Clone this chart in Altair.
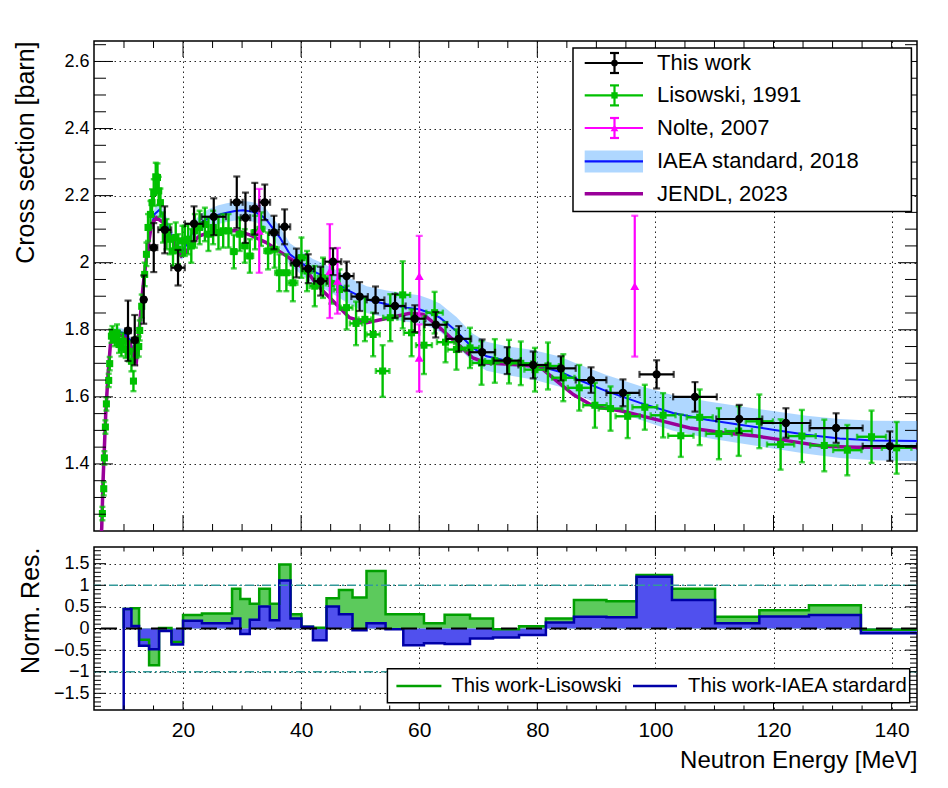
import altair as alt
import pandas as pd

FONT = "Liberation Sans"

# ---------------- data ----------------
# This work
tw_E = [10.68, 11.82, 13.34, 15.04, 16.90, 19.15, 21.86, 25.20, 29.10, 30.57, 32.15, 33.84, 35.40,
        37.20, 39.20, 41.20, 43.30, 45.40, 47.70, 49.90, 52.60, 55.90, 59.25, 62.80, 66.70, 70.65,
        74.90, 79.30, 84.00, 89.10, 94.50, 100.20, 106.70, 114.20, 122.10, 130.60, 139.70]
tw_v = [1.797, 1.769, 1.890, 2.045, 2.098, 1.985, 2.116, 2.137, 2.180, 2.134, 2.161, 2.180, 2.090,
        2.107, 1.999, 1.982, 1.945, 2.003, 1.960, 1.899, 1.889, 1.871, 1.833, 1.815, 1.773, 1.733,
        1.708, 1.695, 1.685, 1.650, 1.612, 1.667, 1.600, 1.534, 1.522, 1.507, 1.453]
tw_dy = [0.090, 0.075, 0.072, 0.073, 0.070, 0.053, 0.052, 0.055, 0.077, 0.075, 0.077, 0.053, 0.050,
         0.052, 0.043, 0.043, 0.043, 0.040, 0.043, 0.043, 0.040, 0.036, 0.040, 0.038, 0.038, 0.038,
         0.040, 0.040, 0.036, 0.038, 0.040, 0.042, 0.044, 0.042, 0.044, 0.044, 0.044]
tw_dx = [0.5, 0.5, 0.3, 0.6, 1.1, 1.15, 1.55, 2.06, 1.0, 0.8, 0.8, 0.9, 0.8,
         0.95, 0.95, 1.0, 1.1, 1.4, 1.2, 1.4, 1.5, 1.8, 1.8, 1.9, 2.1, 2.2,
         2.3, 2.5, 2.5, 2.6, 2.8, 2.9, 3.7, 3.9, 4.15, 4.5, 4.6]

# Lisowski, 1991
lis_E = [6.34, 6.57, 6.68, 6.85, 7.02, 7.41, 7.58, 7.87, 8.04, 8.43, 8.82, 9.16, 9.56, 9.84, 10.29,
         10.85, 11.26, 11.60, 12.10, 12.50, 12.66, 13.00, 13.50, 13.80, 14.07, 14.48, 14.75, 15.04,
         15.38, 15.67, 15.88, 16.17, 16.60, 17.20, 17.75, 18.30, 18.76, 19.15, 19.90, 20.30, 20.85,
         21.40, 22.00, 22.80, 23.70, 24.30, 25.10, 26.00, 26.80, 27.70, 28.60, 29.60, 30.45, 31.30,
         32.20, 33.20, 34.40, 35.50, 36.30, 37.50, 38.60, 40.05, 41.00, 42.30, 43.70, 45.10, 46.50,
         47.70, 49.30, 50.80, 52.20, 53.80, 55.10, 57.20, 58.70, 60.80, 62.60, 64.45, 66.30, 68.60,
         70.55, 72.80, 75.20, 77.20, 79.60, 81.80, 84.40, 87.10, 89.75, 92.40, 95.30, 98.20, 101.30,
         104.30, 107.50, 110.75, 114.10, 117.60, 121.20, 124.80, 128.60, 132.50, 136.60, 140.85]
lis_v = [1.252, 1.326, 1.418, 1.510, 1.579, 1.649, 1.699, 1.781, 1.791, 1.771, 1.791, 1.756, 1.746,
         1.766, 1.741, 1.736, 1.706, 1.647, 1.746, 1.750, 1.798, 1.870, 1.965, 2.025, 2.105, 2.144,
         2.179, 2.209, 2.256, 2.254, 2.214, 2.179, 2.105, 2.085, 2.070, 2.035, 2.075, 2.040, 2.065,
         2.065, 2.070, 2.050, 2.095, 2.105, 2.114, 2.085, 2.105, 2.090, 2.095, 2.095, 2.033, 2.085,
         2.050, 2.020, 2.090, 2.100, 2.035, 2.040, 1.970, 1.970, 1.940, 2.015, 1.975, 1.930, 1.955,
         1.938, 1.920, 1.866, 1.819, 1.831, 1.786, 1.677, 1.836, 1.904, 1.791, 1.754, 1.851, 1.763,
         1.741, 1.746, 1.701, 1.707, 1.705, 1.700, 1.681, 1.692, 1.657, 1.627, 1.575, 1.565, 1.542,
         1.569, 1.545, 1.484, 1.539, 1.490, 1.498, 1.527, 1.458, 1.483, 1.455, 1.441, 1.481, 1.448]
lis_dy = [0.020, 0.020, 0.020, 0.020, 0.020, 0.020, 0.020, 0.020, 0.020, 0.020, 0.025, 0.025, 0.025,
          0.025, 0.025, 0.030, 0.030, 0.030, 0.030, 0.030, 0.030, 0.035, 0.035, 0.035, 0.040, 0.040,
          0.040, 0.040, 0.042, 0.042, 0.042, 0.042, 0.045, 0.045, 0.045, 0.045, 0.045, 0.045, 0.045,
          0.045, 0.045, 0.050, 0.050, 0.050, 0.050, 0.050, 0.050, 0.050, 0.050, 0.050, 0.050, 0.050,
          0.050, 0.050, 0.050, 0.050, 0.055, 0.055, 0.055, 0.055, 0.055, 0.060, 0.060, 0.060, 0.060,
          0.060, 0.060, 0.065, 0.065, 0.065, 0.065, 0.077, 0.070, 0.100, 0.070, 0.086, 0.062, 0.060,
          0.060, 0.060, 0.065, 0.065, 0.065, 0.065, 0.065, 0.070, 0.070, 0.068, 0.067, 0.066, 0.065,
          0.067, 0.066, 0.063, 0.083, 0.076, 0.074, 0.080, 0.075, 0.078, 0.077, 0.075, 0.078, 0.077]
lis_dx = [0.08, 0.08, 0.08, 0.08, 0.09, 0.09, 0.09, 0.10, 0.10, 0.10, 0.11, 0.11, 0.12, 0.12, 0.13,
          0.14, 0.14, 0.15, 0.15, 0.16, 0.16, 0.17, 0.18, 0.18, 0.19, 0.20, 0.20, 0.21, 0.22, 0.22,
          0.23, 0.24, 0.25, 0.26, 0.27, 0.28, 0.29, 0.30, 0.31, 0.32, 0.33, 0.35, 0.36, 0.38, 0.40,
          0.41, 0.43, 0.45, 0.47, 0.49, 0.51, 0.53, 0.55, 0.57, 0.60, 0.62, 0.65, 0.68, 0.70, 0.73,
          0.76, 0.80, 0.82, 0.86, 0.90, 0.93, 0.97, 1.00, 1.05, 1.08, 1.12, 1.15, 1.20, 1.25, 1.30,
          1.35, 1.40, 1.45, 1.50, 1.55, 1.60, 1.65, 1.70, 1.75, 1.80, 1.85, 1.90, 1.95, 2.00, 2.00,
          2.05, 2.10, 2.10, 2.15, 2.20, 2.20, 2.25, 2.30, 2.30, 2.35, 2.40, 2.40, 2.45, 2.50]

# Nolte, 2007
nol_E = [32.9, 44.85, 46.15, 60.0, 60.0, 96.5]
nol_v = [2.095, 1.975, 1.946, 1.960, 1.716, 1.930]
nol_dy = [0.125, 0.140, 0.098, 0.120, 0.100, 0.210]

# IAEA standard, 2018 (curve and uncertainty half-width)
iaea_E = [6.0, 6.3, 6.6, 6.9, 7.3, 7.7, 8.2, 9.0, 10.0, 11.0, 11.6, 12.1, 12.7, 13.2, 13.8, 14.5,
          15.2, 16.0, 16.8, 17.8, 18.8, 19.8, 20.8, 21.7, 23.0, 24.5, 26.0, 27.4, 28.8, 30.2, 31.4,
          32.4, 33.3, 34.1, 35.3, 36.4, 38.1, 40.0, 42.0, 43.2, 45.4, 48.2, 51.1, 54.5, 57.8, 60.0,
          61.8, 63.5, 65.0, 66.3, 67.7, 69.1, 71.4, 74.8, 79.3, 83.8, 86.1, 91.7, 97.4, 103.0, 108.7,
          114.3, 119.9, 125.6, 131.2, 136.9, 144.3]
iaea_v = [1.15, 1.25, 1.40, 1.55, 1.67, 1.76, 1.79, 1.795, 1.79, 1.77, 1.73, 1.72, 1.81, 1.91,
          2.01, 2.10, 2.145, 2.158, 2.135, 2.09, 2.05, 2.03, 2.06, 2.095, 2.12, 2.134, 2.143, 2.149,
          2.154, 2.156, 2.153, 2.149, 2.14, 2.129, 2.10, 2.075, 2.025, 2.0, 1.975, 1.965, 1.945,
          1.915, 1.89, 1.876, 1.866, 1.861, 1.85, 1.836, 1.815, 1.796, 1.77, 1.746, 1.721, 1.708,
          1.696, 1.675, 1.657, 1.617, 1.582, 1.552, 1.532, 1.517, 1.502, 1.487, 1.476, 1.47, 1.468]
iaea_u = [0.012, 0.012, 0.012, 0.012, 0.012, 0.012, 0.012, 0.012, 0.012, 0.012, 0.013, 0.014,
          0.015, 0.015, 0.015, 0.016, 0.018, 0.02, 0.02, 0.02, 0.021, 0.022, 0.024, 0.025, 0.026,
          0.027, 0.028, 0.028, 0.028, 0.028, 0.029, 0.029, 0.03, 0.03, 0.031, 0.032, 0.033, 0.035,
          0.036, 0.037, 0.038, 0.039, 0.04, 0.041, 0.042, 0.042, 0.042, 0.042, 0.042, 0.042, 0.042,
          0.042, 0.043, 0.043, 0.044, 0.045, 0.046, 0.048, 0.05, 0.053, 0.055, 0.055, 0.056, 0.057,
          0.058, 0.059, 0.06]

# JENDL, 2023
jen_E = [6.0, 6.23, 6.45, 6.9, 7.3, 7.7, 8.2, 9.0, 10.0, 11.0, 11.6, 12.1, 12.7, 13.2, 13.8, 14.65,
         15.5, 16.6, 17.5, 18.3, 19.0, 19.7, 20.5, 21.5, 22.8, 24.5, 26.8, 29.05, 31.3, 34.1, 36.9,
         39.2, 41.2, 42.6, 45.4, 48.2, 51.1, 55.0, 58.4, 60.7, 63.5, 66.3, 69.1, 71.4, 76.5, 80.4,
         83.3, 86.1, 89.5, 94.5, 100.2, 105.8, 111.5, 117.1, 122.8, 128.4, 134.1, 144.3]
jen_v = [1.15, 1.209, 1.348, 1.547, 1.667, 1.756, 1.78, 1.785, 1.78, 1.76, 1.72, 1.706, 1.826, 1.925,
         2.015, 2.114, 2.134, 2.12, 2.09, 2.065, 2.04, 2.02, 2.03, 2.06, 2.08, 2.09, 2.095, 2.095,
         2.083, 2.06, 2.027, 2.0, 1.97, 1.935, 1.886, 1.836, 1.821, 1.836, 1.849, 1.846, 1.806,
         1.761, 1.716, 1.701, 1.696, 1.69, 1.647, 1.607, 1.572, 1.557, 1.532, 1.507, 1.493, 1.483,
         1.468, 1.453, 1.45, 1.45]

# Normalised residuals (histograms)
res_edges = [9.95, 11.26, 12.55, 14.25, 15.94, 18.04, 20.0, 23.2, 28.3, 29.7, 31.3, 32.9, 34.7,
             36.3, 38.2, 40.05, 42.0, 44.3, 46.4, 48.7, 51.07, 54.3, 57.3, 60.8, 64.3, 68.6, 72.5,
             76.9, 81.45, 86.2, 91.7, 96.8, 102.8, 110.1, 117.6, 126.0, 134.8, 144.6]
res_lis = [0.45, 0.47, -0.26, -0.85, 0.01, -0.31, 0.31, 0.35, 0.92, 0.68, 0.57, 0.92, 0.57, 1.48,
           0.33, 0.04, 0.02, 0.70, 0.89, 0.72, 1.33, 0.33, 0.33, 0.12, 0.32, 0.23, -0.02, 0.05,
           0.23, 0.66, 0.63, 1.24, 0.92, 0.27, 0.42, 0.54, -0.03]
res_iaea = [0.45, 0.06, -0.40, -0.48, -0.06, -0.37, 0.18, 0.12, 0.23, -0.13, 0.20, 0.51, 0.19, 1.11,
            0.23, 0.04, -0.27, 0.51, 0.33, -0.04, 0.12, -0.02, -0.39, -0.34, -0.36, -0.23, -0.21,
            -0.15, 0.14, 0.27, 0.26, 1.20, 0.66, 0.12, 0.28, 0.31, -0.11]
res_refs = [-1, 1]
res_zero = [0]

# ticks / labels
x_major = [20, 40, 60, 80, 100, 120, 140]
x_minor = [10, 15, 25, 30, 35, 45, 50, 55, 65, 70, 75, 85, 90, 95, 105, 110, 115, 125, 130, 135]
top_y_major = [1.4, 1.6, 1.8, 2.0, 2.2, 2.4, 2.6]
top_y_minor = [1.25, 1.3, 1.35, 1.45, 1.5, 1.55, 1.65, 1.7, 1.75, 1.85, 1.9, 1.95, 2.05, 2.1, 2.15,
               2.25, 2.3, 2.35, 2.45, 2.5, 2.55, 2.65]
bot_y_major = [-1.5, -1.0, -0.5, 0.0, 0.5, 1.0, 1.5]
bot_y_minor = [-1.8, -1.7, -1.6, -1.4, -1.3, -1.2, -1.1, -0.9, -0.8, -0.7, -0.6, -0.4, -0.3, -0.2,
               -0.1, 0.1, 0.2, 0.3, 0.4, 0.6, 0.7, 0.8, 0.9, 1.1, 1.2, 1.3, 1.4, 1.6, 1.7, 1.8]

legend_top_labels = ["This work", "Lisowski, 1991", "Nolte, 2007", "IAEA standard, 2018", "JENDL, 2023"]
legend_bot_labels = ["This work-Lisowski", "This work-IAEA stardard"]
x_title = "Neutron Energy [MeV]"
y_title_top = "Cross section [barn]"
y_title_bot = "Norm. Res."

# ---------------- styling ----------------
W, HT, HB = 823, 490, 163
C_TW, C_LIS, C_NOL = "black", "#00c000", "#ff00ff"
C_IAEA, C_BAND, C_JEN = "#0a14ff", "#4da6ff", "#990099"
C_RL, C_RLF, C_RI, C_RIF = "#00a000", "#5cca5c", "#0000a8", "#5050ee"
C_REF = "#339999"

xs = alt.Scale(domain=[4.92, 144.3], nice=False, zero=False)
ys_top = alt.Scale(domain=[1.2, 2.661], nice=False, zero=False)
ys_bot = alt.Scale(domain=[-1.886, 1.886], nice=False, zero=False)

grid_kw = dict(grid=True, gridColor="black", gridDash=[1.5, 3.5], gridWidth=1, gridOpacity=0.85,
               ticks=False, tickSize=0, domain=False)

xa_top = alt.Axis(title="", labels=False, values=x_major, **grid_kw)
ya_top = alt.Axis(title=y_title_top, values=top_y_major, format="~g", labelFont=FONT,
                  labelFontSize=18, labelColor="black", labelPadding=5, titleFont=FONT,
                  titleFontSize=25, titleFontWeight="normal", titleColor="black",
                  titleAnchor="end", titleAngle=270, titleBaseline="alphabetic", titleX=-61,
                  **grid_kw)
xa_bot = alt.Axis(title=x_title, values=x_major, format="d", labelFont=FONT, labelFontSize=21,
                  labelColor="black", labelBaseline="alphabetic", labelPadding=26,
                  titleFont=FONT, titleFontSize=24, titleFontWeight="normal",
                  titleColor="black", titleAnchor="end", titleBaseline="alphabetic", titleY=57,
                  **grid_kw)
ya_bot = alt.Axis(title=y_title_bot, values=bot_y_major, format="~g", labelFont=FONT,
                  labelFontSize=18, labelColor="black", labelPadding=5, titleFont=FONT,
                  titleFontSize=25, titleFontWeight="normal", titleColor="black",
                  titleAnchor="end", titleAngle=270, titleBaseline="alphabetic", titleX=-56,
                  **grid_kw)


def X(f, xa):
    return alt.X(f"{f}:Q", scale=xs, axis=xa)


def Yf(f, ys, ya):
    return alt.Y(f"{f}:Q", scale=ys, axis=ya)


def err_series(E, v, dy, dx, color, shape, size, lw, cap):
    df = pd.DataFrame({"E": E, "v": v, "dy": dy})
    df["lo"] = df["v"] - df["dy"]
    df["hi"] = df["v"] + df["dy"]
    out = []
    out.append(alt.Chart(df).mark_rule(color=color, strokeWidth=lw, clip=True).encode(
        x=X("E", xa_top), y=Yf("lo", ys_top, ya_top), y2="hi"))
    ycap = pd.concat([df[["E", "lo"]].rename(columns={"lo": "y"}),
                      df[["E", "hi"]].rename(columns={"hi": "y"})])
    out.append(alt.Chart(ycap).mark_tick(color=color, orient="horizontal", size=cap,
                                         thickness=lw, clip=True).encode(
        x=X("E", xa_top), y=Yf("y", ys_top, ya_top)))
    if dx is not None:
        df["dx"] = dx
        df["xlo"] = df["E"] - df["dx"]
        df["xhi"] = df["E"] + df["dx"]
        out.append(alt.Chart(df).mark_rule(color=color, strokeWidth=lw, clip=True).encode(
            x=X("xlo", xa_top), x2="xhi", y=Yf("v", ys_top, ya_top)))
        xcap = pd.concat([df[["xlo", "v"]].rename(columns={"xlo": "x"}),
                          df[["xhi", "v"]].rename(columns={"xhi": "x"})])
        out.append(alt.Chart(xcap).mark_tick(color=color, orient="vertical", size=cap,
                                             thickness=lw, clip=True).encode(
            x=X("x", xa_top), y=Yf("v", ys_top, ya_top)))
    out.append(alt.Chart(df).mark_point(shape=shape, filled=True, size=size, color=color,
                                        opacity=1, clip=True).encode(
        x=X("E", xa_top), y=Yf("v", ys_top, ya_top)))
    return out


def frame_ticks(xa, ya, ys, H, xmaj_len, xmin_len, ymaj_len, ymin_len, ymaj, ymin):
    out = []
    for vals, L in ((x_major, xmaj_len), (x_minor, xmin_len)):
        d = pd.DataFrame({"t": vals})
        out.append(alt.Chart(d).mark_rule(color="black", strokeWidth=1).encode(
            x=X("t", xa), y=alt.value(H), y2=alt.value(H - L)))
        out.append(alt.Chart(d).mark_rule(color="black", strokeWidth=1).encode(
            x=X("t", xa), y=alt.value(0), y2=alt.value(L)))
    for vals, L in ((ymaj, ymaj_len), (ymin, ymin_len)):
        d = pd.DataFrame({"t": vals})
        out.append(alt.Chart(d).mark_rule(color="black", strokeWidth=1).encode(
            y=Yf("t", ys, ya), x=alt.value(0), x2=alt.value(L)))
        out.append(alt.Chart(d).mark_rule(color="black", strokeWidth=1).encode(
            y=Yf("t", ys, ya), x=alt.value(W), x2=alt.value(W - L)))
    return out


dummy = pd.DataFrame({"k": [0]})
V = alt.value

# ---------------- top panel ----------------
band = pd.DataFrame({"E": iaea_E, "v": iaea_v, "u": iaea_u})
band["lo"] = band["v"] - band["u"]
band["hi"] = band["v"] + band["u"]
jen = pd.DataFrame({"E": jen_E, "v": jen_v})

top_layers = [
    alt.Chart(band).mark_area(color=C_BAND, opacity=0.45, clip=True).encode(
        x=X("E", xa_top), y=Yf("lo", ys_top, ya_top), y2="hi"),
    alt.Chart(band).mark_line(color=C_IAEA, strokeWidth=2, clip=True).encode(
        x=X("E", xa_top), y=Yf("v", ys_top, ya_top)),
    alt.Chart(jen).mark_line(color=C_JEN, strokeWidth=3.5, clip=True).encode(
        x=X("E", xa_top), y=Yf("v", ys_top, ya_top)),
]
top_layers += err_series(lis_E, lis_v, lis_dy, lis_dx, C_LIS, "square", 50, 2.4, 6)
top_layers += err_series(nol_E, nol_v, nol_dy, None, C_NOL, "triangle-up", 80, 2.2, 7)
top_layers += err_series(tw_E, tw_v, tw_dy, tw_dx, C_TW, "circle", 70, 2.2, 7)
top_layers += frame_ticks(xa_top, ya_top, ys_top, HT, 16, 7, 19, 12, top_y_major, top_y_minor)

# legend (top)
lg = alt.Chart(dummy)
top_layers.append(lg.mark_rect(fill="white", stroke="black", strokeWidth=1.5).encode(
    x=V(479), x2=V(817.4), y=V(7), y2=V(170.4)))
rows = [22, 54.4, 87, 120.4, 152.7]
sym_x0, sym_x1, sym_c, txt_x = 490.7, 549, 520.5, 563
for row, col, shp, sz in ((rows[0], C_TW, "circle", 45), (rows[1], C_LIS, "square", 40),
                          (rows[2], C_NOL, "triangle-up", 60)):
    top_layers += [
        lg.mark_rule(color=col, strokeWidth=2.2).encode(x=V(sym_x0), x2=V(sym_x1), y=V(row)),
        lg.mark_rule(color=col, strokeWidth=2.2).encode(x=V(sym_c), y=V(row - 10), y2=V(row + 10)),
        lg.mark_rule(color=col, strokeWidth=2.2).encode(x=V(sym_c - 4.5), x2=V(sym_c + 4.5), y=V(row - 10)),
        lg.mark_rule(color=col, strokeWidth=2.2).encode(x=V(sym_c - 4.5), x2=V(sym_c + 4.5), y=V(row + 10)),
        lg.mark_point(shape=shp, filled=True, size=sz, color=col, opacity=1).encode(x=V(sym_c), y=V(row)),
    ]
top_layers += [
    lg.mark_rect(fill=C_BAND, opacity=0.45).encode(x=V(sym_x0), x2=V(sym_x1), y=V(rows[3] - 11), y2=V(rows[3] + 11)),
    lg.mark_rule(color=C_IAEA, strokeWidth=2.2).encode(x=V(sym_x0), x2=V(sym_x1), y=V(rows[3])),
    lg.mark_rule(color=C_JEN, strokeWidth=3.5).encode(x=V(sym_x0), x2=V(sym_x1), y=V(rows[4])),
]
for row, lab in zip(rows, legend_top_labels):
    top_layers.append(lg.mark_text(align="left", baseline="middle", font=FONT, fontSize=22,
                                   color="black").encode(x=V(txt_x), y=V(row), text=V(lab)))

top = alt.layer(*top_layers).properties(width=W, height=HT)

# ---------------- bottom panel ----------------
def hist_frames(vals, start):
    area = pd.DataFrame({"E": res_edges, "r": vals + [vals[-1]]})
    area["z"] = 0.0
    line = pd.DataFrame({"E": [res_edges[0]] + res_edges, "r": [start] + vals + [vals[-1]]})
    line["i"] = range(len(line))
    return area, line


la, ll = hist_frames(res_lis, 0.0)
ia, il = hist_frames(res_iaea, -3.0)

bot_layers = [
    alt.Chart(la).mark_area(interpolate="step-after", color=C_RLF, opacity=1, clip=True).encode(
        x=X("E", xa_bot), y=Yf("r", ys_bot, ya_bot), y2="z"),
    alt.Chart(ia).mark_area(interpolate="step-after", color=C_RIF, opacity=1, clip=True).encode(
        x=X("E", xa_bot), y=Yf("r", ys_bot, ya_bot), y2="z"),
    alt.Chart(ll).mark_line(interpolate="step-after", color=C_RL, strokeWidth=2.5, clip=True).encode(
        x=X("E", xa_bot), y=Yf("r", ys_bot, ya_bot), order="i:Q"),
    alt.Chart(il).mark_line(interpolate="step-after", color=C_RI, strokeWidth=2.5, clip=True).encode(
        x=X("E", xa_bot), y=Yf("r", ys_bot, ya_bot), order="i:Q"),
    alt.Chart(pd.DataFrame({"lvl": res_refs})).mark_rule(
        color=C_REF, strokeWidth=1.5, strokeDash=[9, 3, 2, 3]).encode(y=Yf("lvl", ys_bot, ya_bot)),
    alt.Chart(pd.DataFrame({"lvl": res_zero})).mark_rule(
        color="black", strokeWidth=2, strokeDash=[16, 9]).encode(y=Yf("lvl", ys_bot, ya_bot)),
]
bot_layers += frame_ticks(xa_bot, ya_bot, ys_bot, HB, 9, 4.5, 12, 7, bot_y_major, bot_y_minor)

bl = alt.Chart(dummy)
brow = 139
bot_layers += [
    bl.mark_rect(fill="white", stroke="black", strokeWidth=1.5).encode(
        x=V(293.4), x2=V(815.7), y=V(121.7), y2=V(155.7)),
    bl.mark_rule(color=C_RL, strokeWidth=2.5).encode(x=V(302.4), x2=V(347.4), y=V(brow)),
    bl.mark_rule(color=C_RI, strokeWidth=2.5).encode(x=V(539), x2=V(583), y=V(brow)),
    bl.mark_text(align="left", baseline="middle", font=FONT, fontSize=20.3, color="black").encode(
        x=V(357.4), y=V(brow), text=V(legend_bot_labels[0])),
    bl.mark_text(align="left", baseline="middle", font=FONT, fontSize=20.3, color="black").encode(
        x=V(594), y=V(brow), text=V(legend_bot_labels[1])),
]

bot = alt.layer(*bot_layers).properties(width=W, height=HB)

chart = alt.vconcat(top, bot, spacing=12).properties(
    padding={"left": 4, "top": 31, "right": 12, "bottom": 0},
    background="white",
).configure_view(stroke="black", strokeWidth=1.5)

chart.save("out.html", embed_options={"renderer": "svg", "actions": False})
